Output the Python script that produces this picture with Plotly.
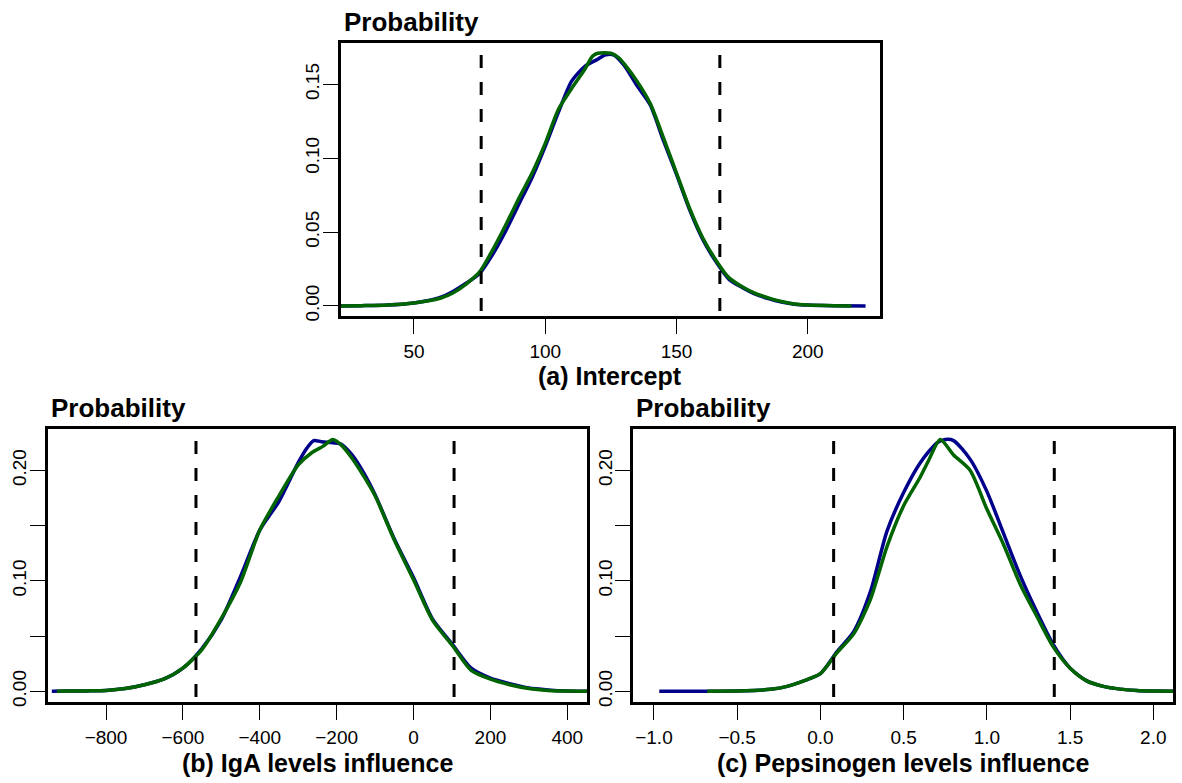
import plotly.graph_objects as go

W, H = 1182, 783

# ---------------- data ----------------
# (a) Intercept
a_blue_x = [22, 30, 40, 50, 55, 60, 65, 70, 75, 80, 85, 90, 95, 100, 105, 110, 115, 120, 123, 126,
            130, 135, 140, 145, 150, 155, 160, 165, 170, 175, 180, 185, 190, 195, 200, 210, 222]
a_blue_y = [0.0, 0.0002, 0.0006, 0.002, 0.0035, 0.0058, 0.010, 0.0155, 0.022, 0.035, 0.051, 0.069,
            0.087, 0.108, 0.131, 0.152, 0.162, 0.167, 0.170, 0.170, 0.163, 0.149, 0.136, 0.112, 0.089,
            0.065, 0.045, 0.030, 0.018, 0.0125, 0.008, 0.005, 0.0027, 0.0012, 0.0006, 0.0002, 0.0]
a_green_x = [22, 30, 40, 50, 55, 60, 65, 70, 75, 80, 85, 90, 95, 100, 105, 110, 115, 118, 120, 125,
             128, 130, 135, 140, 145, 150, 155, 160, 165, 170, 175, 180, 185, 190, 195, 200, 210, 216.6]
a_green_y = [0.0, 0.0002, 0.0006, 0.002, 0.0033, 0.0052, 0.009, 0.015, 0.023, 0.038, 0.055, 0.073,
             0.090, 0.110, 0.133, 0.147, 0.160, 0.169, 0.171, 0.171, 0.168, 0.164, 0.152, 0.137, 0.114,
             0.090, 0.066, 0.046, 0.031, 0.019, 0.013, 0.0085, 0.0055, 0.003, 0.0013, 0.0007, 0.0002, 0.0]
a_quantiles = [75.6, 166.5]

# (b) IgA levels influence
b_blue_x = [-941, -900, -850, -800, -750, -700, -650, -600, -550, -500, -450, -400, -350, -300, -280,
            -260, -240, -210, -190, -160, -130, -100, -50, 0, 50, 100, 150, 200, 250, 300, 350, 400, 452]
b_blue_y = [0.0, 0.0002, 0.0004, 0.0008, 0.0025, 0.006, 0.011, 0.021, 0.039, 0.065, 0.104, 0.146,
            0.172, 0.207, 0.219, 0.227, 0.226, 0.225, 0.224, 0.214, 0.198, 0.178, 0.138, 0.103, 0.065,
            0.043, 0.021, 0.012, 0.007, 0.003, 0.0013, 0.0003, 0.0]
b_green_x = [-928, -900, -850, -800, -750, -700, -650, -600, -550, -500, -450, -400, -350, -300, -265,
             -235, -210, -185, -160, -130, -100, -50, 0, 50, 100, 150, 200, 250, 300, 350, 400, 452]
b_green_y = [0.0, 0.0002, 0.0004, 0.0008, 0.0025, 0.006, 0.011, 0.021, 0.038, 0.066, 0.099, 0.146,
             0.177, 0.205, 0.216, 0.222, 0.228, 0.222, 0.211, 0.195, 0.177, 0.137, 0.101, 0.064, 0.042,
             0.019, 0.011, 0.006, 0.0025, 0.0008, 0.0002, 0.0]
b_quantiles = [-566, 105.4]

# (c) Pepsinogen levels influence
c_blue_x = [-0.968, -0.7, -0.5, -0.4, -0.3, -0.2, -0.1, 0.0, 0.1, 0.2, 0.3, 0.4, 0.5, 0.6, 0.7, 0.75,
            0.8, 0.9, 1.0, 1.1, 1.2, 1.3, 1.4, 1.5, 1.6, 1.7, 1.8, 1.9, 2.0, 2.12]
c_blue_y = [0.0, 0.0001, 0.0003, 0.0008, 0.0018, 0.0045, 0.0095, 0.016, 0.036, 0.054, 0.090, 0.145,
            0.180, 0.207, 0.225, 0.228, 0.227, 0.210, 0.181, 0.143, 0.105, 0.072, 0.042, 0.021, 0.0095,
            0.0045, 0.002, 0.0008, 0.0003, 0.0]
c_green_x = [-0.68, -0.5, -0.4, -0.3, -0.2, -0.1, 0.0, 0.1, 0.2, 0.3, 0.4, 0.5, 0.6, 0.65, 0.72, 0.8,
             0.9, 1.0, 1.1, 1.2, 1.3, 1.4, 1.5, 1.6, 1.7, 1.8, 1.9, 2.0, 2.12]
c_green_y = [0.0, 0.0003, 0.0008, 0.0018, 0.0045, 0.0095, 0.016, 0.035, 0.052, 0.083, 0.131, 0.168,
             0.194, 0.209, 0.228, 0.214, 0.200, 0.165, 0.133, 0.097, 0.068, 0.040, 0.021, 0.0095,
             0.0045, 0.002, 0.0008, 0.0003, 0.0]
c_quantiles = [0.0795, 1.405]

a_xticks = [50, 100, 150, 200]
a_xticktext = ["50", "100", "150", "200"]
b_xticks = [-800, -600, -400, -200, 0, 200, 400]
b_xticktext = ["\u2212800", "\u2212600", "\u2212400", "\u2212200", "0", "200", "400"]
c_xticks = [-1.0, -0.5, 0.0, 0.5, 1.0, 1.5, 2.0]
c_xticktext = ["\u22121.0", "\u22120.5", "0.0", "0.5", "1.0", "1.5", "2.0"]
a_yticks = [0.0, 0.05, 0.10, 0.15]
a_yticktext = ["0.00", "0.05", "0.10", "0.15"]
bc_yticks = [0.0, 0.05, 0.10, 0.15, 0.20]
bc_yticktext = ["0.00", "", "0.10", "", "0.20"]

panel_titles = ["(a) Intercept", "(b) IgA levels influence", "(c) Pepsinogen levels influence"]
y_title = "Probability"

# ---------------- layout geometry (pixels) ----------------
panels = [
    dict(x0=340.7, x1=880.0, y0=43.3, y1=318.3, xr=[22.1, 227.5], yr=[-0.0067, 0.178]),
    dict(x0=47.7, x1=587.3, y0=432.3, y1=707.7, xr=[-951.7, 452.0], yr=[-0.0099, 0.2375]),
    dict(x0=633.3, x1=1173.3, y0=432.3, y1=707.7, xr=[-1.124, 2.12], yr=[-0.0099, 0.2375]),
]

BLUE = "#00008B"
GREEN = "#006400"
FONT = "Liberation Sans, Arial, Helvetica, sans-serif"

fig = go.Figure()

series = [
    (a_blue_x, a_blue_y, a_green_x, a_green_y, a_quantiles, a_xticks, a_xticktext, a_yticks, a_yticktext),
    (b_blue_x, b_blue_y, b_green_x, b_green_y, b_quantiles, b_xticks, b_xticktext, bc_yticks, bc_yticktext),
    (c_blue_x, c_blue_y, c_green_x, c_green_y, c_quantiles, c_xticks, c_xticktext, bc_yticks, bc_yticktext),
]

layout_axes = {}
for i, (p, s) in enumerate(zip(panels, series)):
    bx, by, gx, gy, qs, xt, xtt, yt, ytt = s
    n = "" if i == 0 else str(i + 1)
    xa, ya = "x" + n, "y" + n
    fig.add_trace(go.Scatter(x=bx, y=by, mode="lines", xaxis=xa, yaxis=ya,
                             line=dict(color=BLUE, width=3.5, shape="spline", smoothing=0.7),
                             showlegend=False, hoverinfo="skip"))
    fig.add_trace(go.Scatter(x=gx, y=gy, mode="lines", xaxis=xa, yaxis=ya,
                             line=dict(color=GREEN, width=3.5, shape="spline", smoothing=0.7),
                             showlegend=False, hoverinfo="skip"))
    for q in qs:
        fig.add_shape(type="line", xref=xa, yref=ya + " domain", x0=q, x1=q, y0=1, y1=0,
                      line=dict(color="black", width=3, dash="0px,12px,13px,2px"), layer="above")
    axcommon = dict(showline=True, linecolor="black", linewidth=3, mirror=True,
                    ticks="outside", ticklen=15, tickwidth=1.2, tickcolor="black",
                    showgrid=False, zeroline=False,
                    tickfont=dict(family=FONT, size=19, color="black"))
    layout_axes["xaxis" + n] = dict(axcommon, domain=[p["x0"] / W, p["x1"] / W], range=p["xr"],
                                    anchor=ya, tickmode="array", tickvals=xt, ticktext=xtt,
                                    ticklabelstandoff=1)
    layout_axes["yaxis" + n] = dict(axcommon, domain=[1 - p["y1"] / H, 1 - p["y0"] / H], range=p["yr"],
                                    anchor=xa, tickmode="array", tickvals=yt, ticktext=ytt,
                                    tickangle=-90, ticklabelstandoff=-4)
    # panel caption under the x axis
    fig.add_annotation(text="<b>" + panel_titles[i] + "</b>", xref="paper", yref="paper",
                       x=(p["x0"] + p["x1"]) / 2 / W, y=1 - (p["y1"] + 61) / H,
                       xanchor="center", yanchor="middle", showarrow=False,
                       font=dict(family=FONT, size=25, color="black"))
    # "Probability" label above the box
    fig.add_annotation(text="<b>" + y_title + "</b>", xref="paper", yref="paper",
                       x=(p["x0"] + 1) / W, y=1 - (p["y0"] - 21) / H,
                       xanchor="left", yanchor="middle", showarrow=False,
                       font=dict(family=FONT, size=26, color="black"))

fig.update_layout(width=W, height=H, margin=dict(l=0, r=0, t=0, b=0),
                  paper_bgcolor="white", plot_bgcolor="white", **layout_axes)

fig.write_html("out.html", config={"displayModeBar": False},
               post_script="document.body.style.margin='0';document.body.style.padding='0';")
